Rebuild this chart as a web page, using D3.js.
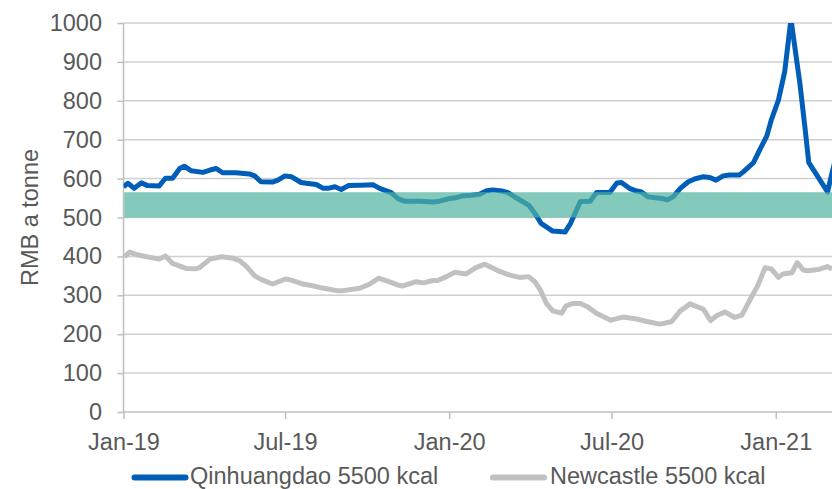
<!DOCTYPE html>
<html><head><meta charset="utf-8">
<script src="https://cdn.jsdelivr.net/npm/d3@7/dist/d3.min.js"></script>
<style>
html,body{margin:0;padding:0;background:#fff;}
svg text{font-family:"Liberation Sans",Arial,sans-serif;fill:#595959;}
</style></head>
<body><svg id="c" width="832" height="489"></svg>
<script>
// ---- data ----
const qhdDates = ["2019-01-01","2019-01-06","2019-01-13","2019-01-21","2019-01-28","2019-02-10","2019-02-17","2019-02-25","2019-03-05","2019-03-10","2019-03-18","2019-03-31","2019-04-08","2019-04-15","2019-04-22","2019-05-07","2019-05-22","2019-05-28","2019-06-04","2019-06-17","2019-06-23","2019-07-01","2019-07-08","2019-07-19","2019-07-25","2019-08-05","2019-08-13","2019-08-18","2019-08-26","2019-09-02","2019-09-10","2019-09-23","2019-10-08","2019-10-15","2019-10-28","2019-11-05","2019-11-12","2019-11-29","2019-12-14","2019-12-21","2019-12-31","2020-01-07","2020-01-15","2020-01-26","2020-02-04","2020-02-12","2020-02-19","2020-02-29","2020-03-07","2020-03-15","2020-03-30","2020-04-06","2020-04-13","2020-04-26","2020-05-10","2020-05-16","2020-05-27","2020-06-07","2020-06-14","2020-06-29","2020-07-07","2020-07-12","2020-07-21","2020-07-29","2020-08-03","2020-08-11","2020-08-28","2020-09-01","2020-09-08","2020-09-16","2020-09-25","2020-10-02","2020-10-12","2020-10-19","2020-10-26","2020-11-03","2020-11-10","2020-11-21","2020-11-25","2020-12-07","2020-12-14","2020-12-22","2020-12-27","2021-01-04","2021-01-11","2021-01-18","2021-01-28","2021-02-03","2021-02-07","2021-02-16","2021-02-28","2021-03-05","2021-03-10"];
const qhdValues = [579,588,575,589,582,581,601,601,626,632,620,616,622,626,615,615,612,607,592,591,596,607,605,590,588,585,575,575,579,572,582,583,584,575,564,548,542,542,540,542,548,550,555,557,560,569,571,568,564,552,532,511,485,465,463,485,541,542,564,564,589,590,575,568,566,553,548,545,553,575,592,599,605,603,596,607,609,609,616,641,674,710,751,802,875,1010,845,725,641,609,566,614,660];

const ncDates = ["2019-01-02","2019-01-08","2019-01-15","2019-01-27","2019-02-10","2019-02-17","2019-02-25","2019-03-12","2019-03-23","2019-03-27","2019-04-08","2019-04-21","2019-05-04","2019-05-11","2019-05-19","2019-05-28","2019-06-04","2019-06-17","2019-07-02","2019-07-08","2019-07-21","2019-07-29","2019-08-09","2019-08-28","2019-09-04","2019-09-23","2019-10-04","2019-10-14","2019-10-23","2019-11-05","2019-11-10","2019-11-25","2019-12-03","2019-12-14","2019-12-19","2019-12-29","2020-01-07","2020-01-20","2020-01-31","2020-02-10","2020-02-25","2020-03-09","2020-03-20","2020-03-30","2020-04-06","2020-04-12","2020-04-19","2020-04-26","2020-05-06","2020-05-11","2020-05-19","2020-05-27","2020-06-05","2020-06-14","2020-06-30","2020-07-14","2020-07-29","2020-08-11","2020-08-24","2020-09-06","2020-09-16","2020-09-27","2020-10-12","2020-10-20","2020-10-27","2020-11-05","2020-11-16","2020-11-24","2020-12-03","2020-12-12","2020-12-20","2020-12-27","2021-01-04","2021-01-09","2021-01-19","2021-01-25","2021-02-01","2021-02-06","2021-02-19","2021-02-28","2021-03-05"];
const ncValues = [399,411,405,399,393,401,382,369,368,371,393,399,395,389,374,350,341,329,342,339,329,326,320,312,312,318,329,344,337,326,324,335,332,338,338,348,359,355,371,380,363,352,346,348,335,314,279,260,254,273,279,279,269,254,236,244,239,232,226,232,260,278,264,235,248,257,243,249,288,326,371,368,346,355,358,384,365,363,367,374,367];

const bandRange = [500, 565];
const yTicks = [0,100,200,300,400,500,600,700,800,900,1000];
const xTickDates = ["2019-01-01","2019-07-01","2020-01-01","2020-07-01","2021-01-01"];
const xTickLabels = ["Jan-19","Jul-19","Jan-20","Jul-20","Jan-21"];
const seriesNames = ["Qinhuangdao 5500 kcal","Newcastle 5500 kcal"];
const yTitle = "RMB a tonne";

// ---- drawing ----
(function(){
const svg = d3.select("#c");
const pL = 123.5, pR = 832, pT = 23, pB = 412;
const parse = d3.utcParse("%Y-%m-%d");
const x = d3.scaleUtc().domain([parse("2019-01-01"), parse("2021-03-05")]).range([pL, pR]);
const y = d3.scaleLinear().domain([0,1000]).range([pB, pT]);
const FS = 23.5;

// gridlines
svg.append("g").selectAll("line").data(yTicks.filter(d=>d>0)).join("line")
  .attr("x1", pL).attr("x2", pR)
  .attr("y1", d=>y(d)).attr("y2", d=>y(d))
  .attr("stroke", "#D0D0D0").attr("stroke-width", 1.5);

// y axis
const yAxis = svg.append("g").attr("transform", `translate(${pL},0)`)
  .call(d3.axisLeft(y).tickValues(yTicks).tickSize(6).tickPadding(15.5).tickFormat(d3.format("d")));
yAxis.select(".domain").attr("stroke", "#BFBFBF").attr("stroke-width", 1.5).attr("d", `M0,${pB}V${pT}`);
yAxis.selectAll(".tick line").attr("stroke", "#BFBFBF").attr("stroke-width", 1.5);
yAxis.selectAll(".tick text").style("font-size", FS+"px").attr("fill", "#595959");

// x axis
const xAxis = svg.append("g").attr("transform", `translate(0,${pB})`)
  .call(d3.axisBottom(x).tickValues(xTickDates.map(parse)).tickSize(7).tickPadding(14)
    .tickFormat((d,i)=>xTickLabels[i]));
xAxis.select(".domain").attr("stroke", "#BFBFBF").attr("stroke-width", 1.5).attr("d", `M${pL},0H${pR}`);
xAxis.selectAll(".tick line").attr("stroke", "#BFBFBF").attr("stroke-width", 1.5);
xAxis.selectAll(".tick text").style("font-size", FS+"px").attr("fill", "#595959");

// y title
svg.append("text").attr("transform", `translate(38,${(pT+pB)/2}) rotate(-90)`)
  .attr("text-anchor", "middle").style("font-size", FS+"px").text(yTitle);

// clip
svg.append("clipPath").attr("id","plot").append("rect")
  .attr("x", pL).attr("y", pT).attr("width", pR-pL).attr("height", pB-pT+10);

const line = d3.line().x(d=>x(d[0])).y(d=>y(d[1]));
const qhd = qhdDates.map((d,i)=>[parse(d), qhdValues[i]]);
const nc = ncDates.map((d,i)=>[parse(d), ncValues[i]]);
const colors = ["#005EB8", "#BFC1C3"];

const g = svg.append("g").attr("clip-path","url(#plot)");
g.append("path").datum(nc).attr("d", line).attr("fill","none")
  .attr("stroke", colors[1]).attr("stroke-width", 5).attr("stroke-linejoin","round");
g.append("path").datum(qhd).attr("d", line).attr("fill","none")
  .attr("stroke", colors[0]).attr("stroke-width", 5).attr("stroke-linejoin","round");

// band
svg.append("rect").attr("x", pL+0.75).attr("width", pR-pL)
  .attr("y", y(bandRange[1])).attr("height", y(bandRange[0]) - y(bandRange[1]))
  .attr("fill", "rgb(80,180,160)").attr("fill-opacity", 0.7);

// legend
const legLineY = 477.5, legTextY = 484;
const leg = [{x:131.5, tx:190, name:seriesNames[0], c:colors[0]},{x:490, tx:550, name:seriesNames[1], c:colors[1]}];
leg.forEach(l=>{
  svg.append("line").attr("x1", l.x+3).attr("x2", l.x+54).attr("y1", legLineY).attr("y2", legLineY)
    .attr("stroke", l.c).attr("stroke-width", 6).attr("stroke-linecap","round");
  svg.append("text").attr("x", l.tx).attr("y", legTextY)
    .style("font-size", "23.5px").text(l.name);
});
})();
</script></body></html>
